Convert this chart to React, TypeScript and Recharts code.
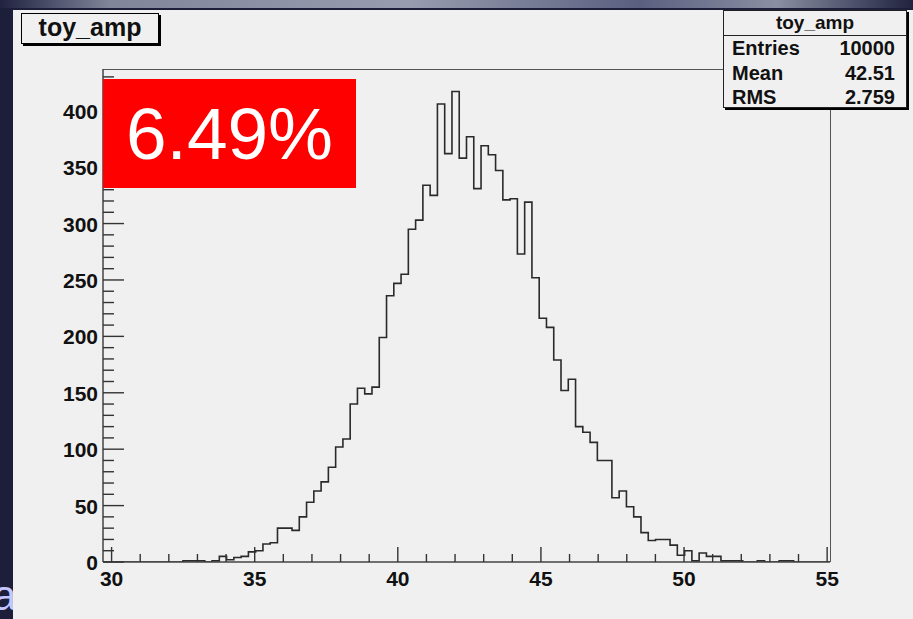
import React from 'react';
import { LineChart, Line, XAxis, YAxis } from 'recharts';

const W = 913;
const H = 619;
// plot frame in page pixels
const PLOT = { left: 103, right: 830, top: 69, bottom: 562 };
const FONT = '"Liberation Sans", Arial, Helvetica, sans-serif';
const X_AXIS_H = 30;
const Y_AXIS_W = 40;

// histogram binning
const binLow = 29.7;
const binWidth = 0.254;
const nBins = 100;

// bin contents
const counts = [
  0, 0, 0, 0, 0, 0, 0, 0, 0, 0,
  0, 1, 1, 1, 0, 1, 5, 2, 4, 5,
  9, 10, 16, 17, 30, 30, 28, 40, 53, 63,
  71, 84, 102, 109, 140, 154, 149, 155, 199, 236,
  247, 255, 295, 303, 334, 325, 406, 362, 417, 358,
  377, 331, 369, 361, 347, 321, 322, 273, 319, 252,
  216, 208, 179, 152, 162, 120, 115, 106, 90, 90,
  57, 63, 49, 40, 26, 19, 20, 20, 15, 6,
  10, 1, 8, 5, 5, 1, 1, 1, 0, 0,
  1, 0, 0, 1, 1, 0, 0, 0, 0, 0,
];

const xLabels = [30, 35, 40, 45, 50, 55];
const yLabels = [0, 50, 100, 150, 200, 250, 300, 350, 400];
const yMax = 437;

const statsTitle = 'toy_amp';
const statNames = ['Entries', 'Mean', 'RMS'];
const statValues = ['10000', '42.51', '2.759'];
const badge = '6.49%';

const binHigh = binLow + nBins * binWidth;
const data = counts.map((c, i) => ({ x: +(binLow + i * binWidth).toFixed(4), count: c }));
data.push({ x: +binHigh.toFixed(4), count: counts[counts.length - 1] });

// minor ticks every 1 on x, every 10 on y
const xTicks: number[] = [];
for (let v = xLabels[0]; v <= xLabels[xLabels.length - 1]; v++) xTicks.push(v);
const yTicks: number[] = [];
for (let v = 0; v <= 430; v += 10) yTicks.push(v);

const XTick = (props: any) => {
  const { x, payload } = props;
  const major = xLabels.includes(payload.value);
  return (
    <g>
      <line x1={x} x2={x} y1={PLOT.bottom} y2={PLOT.bottom - (major ? 15 : 8)} stroke="#333" strokeWidth={1.4} />
      {major && (
        <text x={x} y={PLOT.bottom + 24} textAnchor="middle" fontFamily={FONT} fontWeight="bold" fontSize={21} fill="#111">
          {payload.value}
        </text>
      )}
    </g>
  );
};

const YTick = (props: any) => {
  const { y, payload } = props;
  const major = yLabels.includes(payload.value);
  return (
    <g>
      <line x1={PLOT.left} x2={PLOT.left + (major ? 21 : 11)} y1={y} y2={y} stroke="#333" strokeWidth={1.4} />
      {major && (
        <text x={PLOT.left - 5} y={y + 8} textAnchor="end" fontFamily={FONT} fontWeight="bold" fontSize={21} fill="#111">
          {payload.value}
        </text>
      )}
    </g>
  );
};

export default function App() {
  return (
    <div style={{ position: 'absolute', left: 0, top: 0, width: W, height: H, overflow: 'hidden', background: '#1c1e3a' }}>
      {/* slide strip at the top */}
      <div
        style={{
          position: 'absolute', left: 0, top: 0, width: W, height: 8,
          background: 'linear-gradient(to right, #20223f 0%, #80859a 12%, #979cae 45%, #5a5f80 70%, #8a8fa2 85%, #20223f 100%)',
        }}
      />
      <div style={{ position: 'absolute', left: -7, top: 572, fontFamily: FONT, fontSize: 42, color: '#c4c6ff' }}>a</div>

      {/* ROOT canvas */}
      <div style={{ position: 'absolute', left: 13, top: 10, width: W - 13, height: H - 10, background: '#f0f0f0' }} />

      {/* frame top/right lines */}
      <div
        style={{
          position: 'absolute', left: PLOT.left, top: PLOT.top,
          width: PLOT.right - PLOT.left + 1, height: PLOT.bottom - PLOT.top,
          borderTop: '1.5px solid #555', borderRight: '1.5px solid #555', boxSizing: 'border-box',
        }}
      />

      <div style={{ position: 'absolute', left: 0, top: 0 }}>
        <LineChart
          width={W}
          height={H}
          data={data}
          margin={{
            left: PLOT.left - Y_AXIS_W,
            right: W - PLOT.right,
            top: PLOT.top,
            bottom: H - PLOT.bottom - X_AXIS_H,
          }}
        >
          <XAxis
            dataKey="x"
            type="number"
            domain={[binLow, binHigh]}
            allowDataOverflow
            ticks={xTicks}
            interval={0}
            tick={(p: any) => <XTick {...p} />}
            tickLine={false}
            axisLine={{ stroke: '#444', strokeWidth: 1.5 }}
            height={X_AXIS_H}
          />
          <YAxis
            type="number"
            domain={[0, yMax]}
            allowDataOverflow
            ticks={yTicks}
            interval={0}
            tick={(p: any) => <YTick {...p} />}
            tickLine={false}
            axisLine={{ stroke: '#444', strokeWidth: 1.5 }}
            width={Y_AXIS_W}
          />
          <Line
            type="stepAfter"
            dataKey="count"
            stroke="#2a2a2a"
            strokeWidth={1.6}
            dot={false}
            activeDot={false}
            isAnimationActive={false}
          />
        </LineChart>
      </div>

      {/* title box */}
      <div
        style={{
          position: 'absolute', left: 21, top: 13, width: 138, height: 31,
          border: '1.5px solid #000', boxShadow: '2px 2px 0 #000', background: '#f0f0f0',
          boxSizing: 'border-box', fontFamily: FONT, fontWeight: 'bold', fontSize: 25,
          textAlign: 'center', lineHeight: '26px', color: '#111',
        }}
      >
        toy_amp
      </div>

      {/* red badge */}
      <div
        style={{
          position: 'absolute', left: PLOT.left, top: 79, width: 253, height: 109, background: '#ff0000',
          color: '#fff', fontFamily: FONT, fontSize: 73, textAlign: 'center', lineHeight: '109px',
        }}
      >
        {badge}
      </div>

      {/* stats box */}
      <div
        style={{
          position: 'absolute', left: 723, top: 10, width: 184, height: 98,
          border: '1.5px solid #222', boxShadow: '2px 2px 0 #000', background: '#f0f0f0',
          boxSizing: 'border-box', fontFamily: FONT, color: '#111',
        }}
      >
        <div style={{ height: 24, borderBottom: '1.5px solid #222', textAlign: 'center', fontSize: 19, fontWeight: 'bold', lineHeight: '24px' }}>
          {statsTitle}
        </div>
        {statNames.map((name, i) => (
          <div key={name} style={{ display: 'flex', justifyContent: 'space-between', padding: '0 11px 0 8px', height: 24.5, lineHeight: '24.5px', fontSize: 20, fontWeight: 'bold' }}>
            <span>{name}</span>
            <span>{statValues[i]}</span>
          </div>
        ))}
      </div>
    </div>
  );
}
